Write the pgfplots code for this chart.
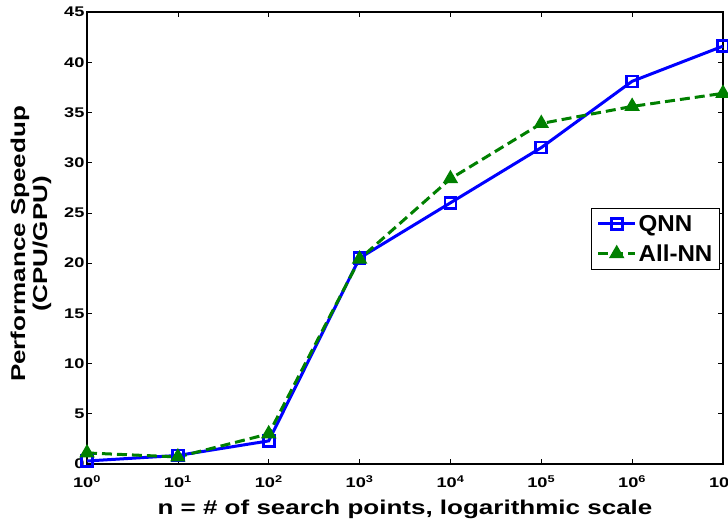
\documentclass[border=0pt]{standalone}
\usepackage{pgfplots}
\pgfplotsset{compat=1.18}
\usepackage{fontspec}
\setmainfont{Liberation Sans}
\newfontfamily\wide{Liberation Sans}[FakeStretch=1.3]
\newfontfamily\wideleg{Liberation Sans}[FakeStretch=1.05]
\definecolor{mblue}{RGB}{0,0,255}
\definecolor{mgreen}{RGB}{0,128,0}
\begin{document}
\begin{tikzpicture}
\begin{axis}[
  at={(0,0)}, anchor=south west,
  scale only axis, width=636bp, height=452bp,
  xmode=log, log basis x=10,
  xmin=1, xmax=1e7, ymin=0, ymax=45,
  xtick={1,10,100,1000,10000,100000,1000000,10000000},
  xticklabels={10\textsuperscript{0},10\textsuperscript{1},10\textsuperscript{2},10\textsuperscript{3},10\textsuperscript{4},10\textsuperscript{5},10\textsuperscript{6},10\textsuperscript{7}},
  ytick={0,5,...,45},
  /pgf/number format/assume math mode=true,
  tick label style={font=\fontsize{14bp}{16bp}\wide\bfseries},
  xticklabel style={yshift=-8bp},
  yticklabel style={xshift=1bp},
  tick align=inside, tick pos=both,
  major tick length=5bp, minor tick length=3bp,
  every tick/.style={black, line width=0.6bp},
  axis line style={line width=1.2bp},
  xlabel={n = \# of search points, logarithmic scale},
  ylabel={Performance Speedup\\(CPU/GPU)},
  ylabel style={align=center, font=\fontsize{20bp}{22bp}\wide\bfseries, yshift=6bp, xshift=-6bp},
  xlabel style={font=\fontsize{20bp}{22bp}\wide\bfseries, yshift=-5bp},
  legend style={at={(0.995,0.567)}, anchor=north east, font=\fontsize{23bp}{27bp}\wideleg\bfseries, draw=black, line width=0.8bp, inner xsep=5bp, inner ysep=5bp, row sep=8bp},
  legend image code/.code={\draw[mark repeat=2,mark phase=2] plot coordinates {(0cm,0cm) (0.65cm,0cm) (1.3cm,0cm)};},
  legend cell align=left,
  clip=false,
]
\addplot[color=mblue, line width=3bp, mark=square, mark size=5.5bp, mark options={solid, fill=white, line width=2.6bp}]
  coordinates {(1,0.3) (10,0.85) (100,2.3) (1000,20.5) (10000,26.0) (100000,31.5) (1000000,38.1) (10000000,41.6)};
\addlegendentry{QNN}
\addplot[color=mgreen, line width=3bp, dashed, dash pattern=on 10bp off 5bp, mark=triangle*, mark size=7bp, mark options={solid, fill=mgreen, line width=2bp}]
  coordinates {(1,1.1) (10,0.7) (100,3.0) (1000,20.4) (10000,28.4) (100000,33.9) (1000000,35.6) (10000000,36.9)};
\addlegendentry{All-NN}
\end{axis}
\pgfresetboundingbox
\path[use as bounding box] (-87bp,-55bp) rectangle (641bp,464bp);
\end{tikzpicture}
\end{document}
